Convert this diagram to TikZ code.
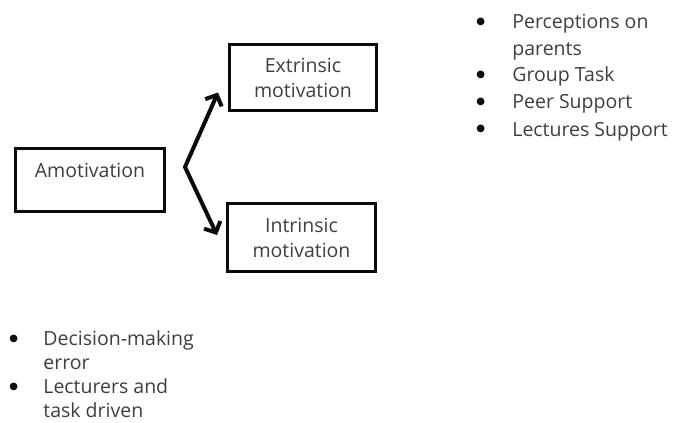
\documentclass[tikz,border=0pt]{standalone}
\usepackage{fontspec}
\setmainfont{Open Sans}
\newfontfamily\simbolo{DejaVu Sans}
\usepackage{tikz}
\usetikzlibrary{arrows.meta, positioning}
\definecolor{tinta}{RGB}{62, 62, 62}
\definecolor{marco}{RGB}{10, 10, 10}
\tikzset{
    caja/.style={draw=marco, rectangle, line width=3pt, text=tinta, align=center,
                 font=\fontsize{19.5}{25}\selectfont},
    lista/.style={text=tinta, anchor=base west, inner sep=0pt,
                 font=\fontsize{19.5}{27}\selectfont},
    flecha/.style={{Straight Barb[length=8.5pt, width=18pt]}-{Straight Barb[length=8.5pt, width=18pt]},
                 marco, line width=4pt, line join=round},
}
\newcommand{\vineta}[1]{\makebox[#1][l]{\raisebox{4pt}{\simbolo\fontsize{10}{10}\selectfont\color{marco}●}}}

\begin{document}
\begin{tikzpicture}[x=1pt, y=1pt]
        \useasboundingbox (0,0) rectangle (673,-423);

        \node [caja, minimum width=149pt, minimum height=63pt, text depth=18.5pt] (amot) at (90,-180) {Amotivation};
        \node [caja, minimum width=147pt, minimum height=66pt] (ext) at (303,-77.5) {Extrinsic\\motivation};
        \node [caja, minimum width=148pt, minimum height=68pt] (int) at (301.5,-237.5) {Intrinsic\\motivation};

        \coordinate (split) at (185,-167);
        \coordinate (upend) at ([xshift=-10pt, yshift=-15pt]ext.west);
        \coordinate (downend) at ([xshift=-9pt, yshift=2.5pt]int.west);

        \draw [flecha] (upend) -- (split) -- (downend);

        % bullet lists
        \node [lista] (apoyos) at (476.2,-28) {\begin{tabular}[t]{@{}l@{}l@{}}
            \vineta{36pt} & Perceptions on\\
                          & parents\\
            \vineta{36pt} & Group Task\\
            \vineta{36pt} & Peer Support\\
            \vineta{36pt} & Lectures Support
        \end{tabular}};

        \node [lista, font=\fontsize{19.5}{24}\selectfont] (causas) at (9.2,-345) {\begin{tabular}[t]{@{}l@{}l@{}}
            \vineta{34pt} & Decision-making\\
                          & error\\
            \vineta{34pt} & Lecturers and\\
                          & task driven
        \end{tabular}};
    \end{tikzpicture}
\end{document}
